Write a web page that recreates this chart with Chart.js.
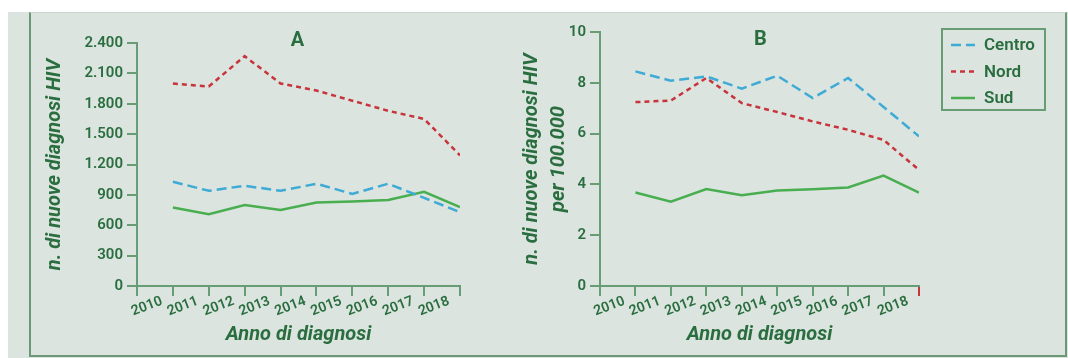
<!DOCTYPE html>
<html lang="it">
<head>
<meta charset="utf-8">
<title>Nuove diagnosi HIV per area geografica</title>
<script src="https://cdn.jsdelivr.net/npm/chart.js@4.4.1/dist/chart.umd.min.js"></script>
<style>
  html, body { margin: 0; padding: 0; background: #ffffff; }
  body { width: 1068px; height: 358px; position: relative; overflow: hidden; }
  #panel { position: absolute; left: 8px; top: 12px; width: 1060px; height: 346px; background: #dbe4de; }
  #frame { position: absolute; left: 29px; top: 12px; width: 1034px; height: 342px;
           border-left: 2px solid #6c9878; border-right: 2px solid #6c9878;
           border-bottom: 2px solid #6c9878; border-top: 1px solid #c9d6cd; }
  #cA { position: absolute; left: 0; top: 0; }
  #cB { position: absolute; left: 480px; top: 0; }
</style>
</head>
<body>
<div id="panel"></div>
<div id="frame"></div>
<canvas id="cA" width="480" height="358"></canvas>
<canvas id="cB" width="588" height="358"></canvas>
<script>
// Anni di diagnosi
const years = [2010, 2011, 2012, 2013, 2014, 2015, 2016, 2017, 2018];

// A: numero di nuove diagnosi HIV
const centroA = [1030, 940, 990, 940, 1010, 910, 1010, 870, 730];
const nordA   = [2000, 1970, 2270, 2000, 1930, 1830, 1730, 1650, 1290];
const sudA    = [775, 710, 800, 750, 825, 835, 850, 930, 780];

// B: nuove diagnosi HIV per 100.000 residenti
const centroB = [8.45, 8.08, 8.25, 7.77, 8.28, 7.40, 8.19, 7.05, 5.89];
const nordB   = [7.24, 7.30, 8.19, 7.20, 6.85, 6.48, 6.15, 5.75, 4.57];
const sudB    = [3.68, 3.32, 3.82, 3.57, 3.76, 3.81, 3.88, 4.35, 3.68];

const areaLabels = ['Centro', 'Nord', 'Sud'];
const yTicksA = [0, 2400, 300];   // min, max, passo
const yTicksB = [0, 10, 2];

const TEXT = '#2a6e40';
const AXIS = '#679c74';
const FONT = 'Roboto';

function itNumber(v) {
  return String(v).replace(/\B(?=(\d{3})+(?!\d))/g, '.');
}

function points(values) {
  return years.map((y, i) => ({ x: y, y: values[i] }));
}

function makeDatasets(c, n, s) {
  return [
    { label: areaLabels[0], data: points(c), borderColor: '#3eaad6', borderDash: [10, 5],
      borderWidth: 2.5, pointRadius: 0, fill: false, tension: 0 },
    { label: areaLabels[1], data: points(n), borderColor: '#c8343c', borderDash: [5, 4],
      borderWidth: 2.5, pointRadius: 0, fill: false, tension: 0 },
    { label: areaLabels[2], data: points(s), borderColor: '#48ae50', borderDash: [],
      borderWidth: 2.5, pointRadius: 0, fill: false, tension: 0 }
  ];
}

// Lettera del pannello sopra l'area del grafico
const panelLetter = {
  id: 'panelLetter',
  afterDraw(chart, args, o) {
    if (!o.text) return;
    const { ctx, chartArea } = chart;
    ctx.save();
    ctx.font = 'bold 20px ' + FONT;
    ctx.fillStyle = TEXT;
    ctx.textAlign = 'center';
    ctx.textBaseline = 'middle';
    ctx.fillText(o.text, (chartArea.left + chartArea.right) / 2 + (o.dx || 0), chartArea.top + (o.dy || 0));
    ctx.restore();
  }
};

// Legenda incorniciata a destra
const boxLegend = {
  id: 'boxLegend',
  afterDraw(chart, args, o) {
    if (!o.display) return;
    const ctx = chart.ctx;
    ctx.save();
    ctx.strokeStyle = AXIS;
    ctx.lineWidth = 2;
    ctx.strokeRect(o.x, o.y, o.w, o.h);
    chart.data.datasets.forEach((ds, i) => {
      const y = o.y + o.first + i * o.step;
      ctx.setLineDash(ds.borderDash || []);
      ctx.strokeStyle = ds.borderColor;
      ctx.lineWidth = ds.borderWidth;
      ctx.beginPath();
      ctx.moveTo(o.x + 9, y);
      ctx.lineTo(o.x + 33, y);
      ctx.stroke();
      ctx.setLineDash([]);
      ctx.fillStyle = TEXT;
      ctx.font = '600 17px ' + FONT;
      ctx.textAlign = 'left';
      ctx.textBaseline = 'middle';
      ctx.fillText(ds.label, o.x + 42, y + 1);
    });
    ctx.restore();
  }
};

function baseOptions(cfg) {
  const tickFont = { family: FONT, size: 15, weight: '600' };
  const titleFont = { family: FONT, size: 20, weight: 'bold', style: 'italic' };
  return {
    responsive: false,
    animation: false,
    events: [],
    layout: { padding: cfg.padding },
    plugins: {
      legend: { display: false },
      tooltip: { enabled: false },
      panelLetter: cfg.letter,
      boxLegend: cfg.legend
    },
    scales: {
      x: {
        type: 'linear',
        min: 2009,
        max: 2018,
        afterFit: s => { s.height = cfg.xHeight; },
        ticks: {
          stepSize: 1,
          autoSkip: false,
          minRotation: 21,
          maxRotation: 21,
          labelOffset: -11,
          padding: -3,
          color: TEXT,
          font: { family: FONT, size: 14, weight: '600' },
          callback: v => (v === 2009 ? '' : String(v))
        },
        grid: {
          drawOnChartArea: false,
          drawTicks: true,
          tickLength: 10,
          tickWidth: 2,
          lineWidth: 2,
          color: AXIS,
          tickColor: cfg.xTickColor || AXIS
        },
        border: { display: true, color: AXIS, width: 2 },
        title: {
          display: true,
          text: 'Anno di diagnosi',
          color: TEXT,
          font: titleFont,
          padding: { top: 0, bottom: 11 }
        }
      },
      y: {
        min: cfg.yTicks[0],
        max: cfg.yTicks[1],
        afterFit: s => { s.width = cfg.yWidth; },
        ticks: {
          stepSize: cfg.yTicks[2],
          padding: 4,
          color: TEXT,
          font: tickFont,
          callback: v => itNumber(v)
        },
        grid: {
          drawOnChartArea: false,
          drawTicks: true,
          tickLength: 10,
          tickWidth: 2,
          lineWidth: 2,
          color: AXIS
        },
        border: { display: true, color: AXIS, width: 2 },
        title: {
          display: true,
          text: cfg.yTitle,
          color: TEXT,
          font: Object.assign({}, titleFont, { lineHeight: cfg.yTitleLineHeight || 1.2 }),
          padding: { top: cfg.yTitlePad, bottom: 0 }
        }
      }
    }
  };
}

new Chart(document.getElementById('cA'), {
  type: 'line',
  data: { datasets: makeDatasets(centroA, nordA, sudA) },
  options: baseOptions({
    padding: { left: 0, right: 20, top: 43, bottom: 0 },
    yWidth: 137,
    xHeight: 72,
    yTicks: yTicksA,
    yTitle: 'n. di nuove diagnosi HIV',
    yTitlePad: 43,
    letter: { text: 'A', dx: -1, dy: -2 },
    legend: { display: false }
  }),
  plugins: [panelLetter, boxLegend]
});

new Chart(document.getElementById('cB'), {
  type: 'line',
  data: { datasets: makeDatasets(centroB, nordB, sudB) },
  options: baseOptions({
    padding: { left: 0, right: 149, top: 32, bottom: 0 },
    yWidth: 120,
    xHeight: 72,
    yTicks: yTicksB,
    yTitle: ['n. di nuove diagnosi HIV', 'per 100.000'],
    yTitleLineHeight: 1.35,
    yTitlePad: 38,
    xTickColor: ctx => (ctx.tick && ctx.tick.value === 2018 ? '#c8343c' : AXIS),
    letter: { text: 'B', dx: 1, dy: 8 },
    legend: { display: true, x: 462, y: 29, w: 103, h: 81, first: 16, step: 26.5 }
  }),
  plugins: [panelLetter, boxLegend]
});
</script>
</body>
</html>
